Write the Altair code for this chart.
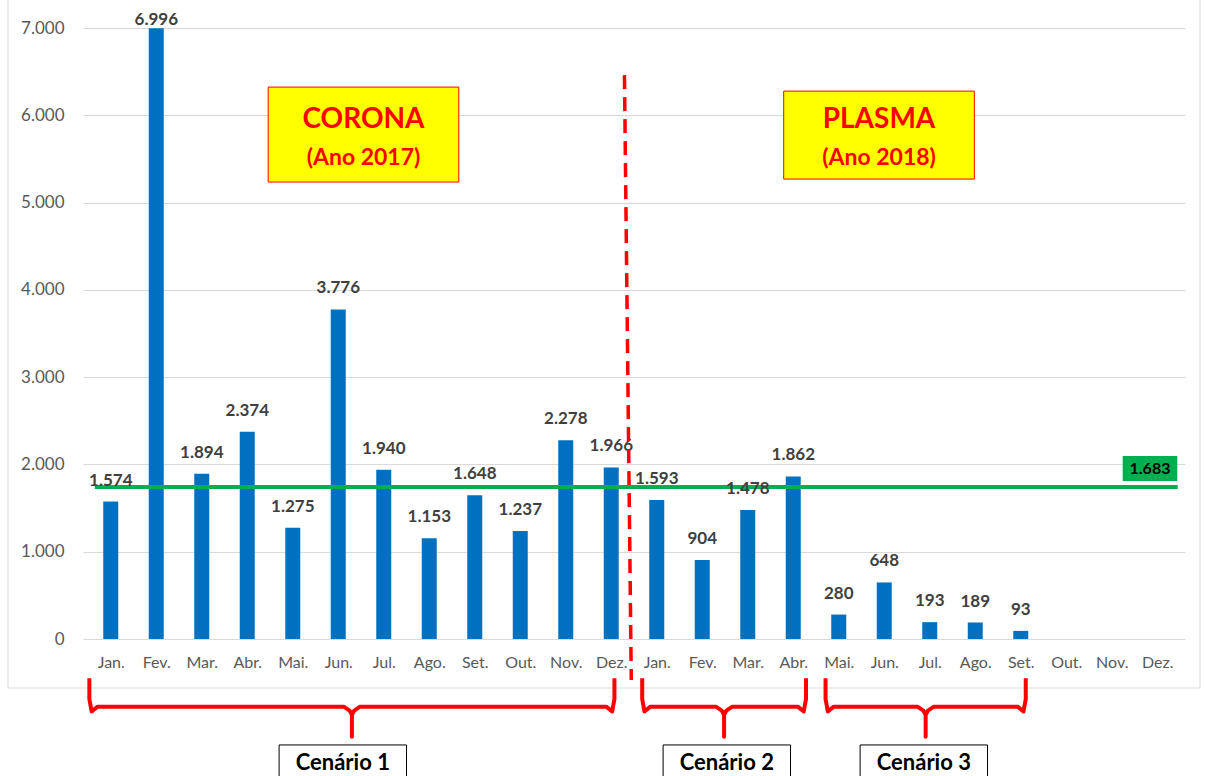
import altair as alt
import pandas as pd

# ---------------- data ----------------
months = ["Jan.", "Fev.", "Mar.", "Abr.", "Mai.", "Jun.", "Jul.", "Ago.", "Set.", "Out.", "Nov.", "Dez."]
values_2017 = [1574, 6996, 1894, 2374, 1275, 3776, 1940, 1153, 1648, 1237, 2278, 1966]
values_2018 = [1593, 904, 1478, 1862, 280, 648, 193, 189, 93, None, None, None]
y_ticks = [0, 1000, 2000, 3000, 4000, 5000, 6000, 7000]
avg_level = 1740
avg_label = "1.683"
box_titles = [("CORONA", "(Ano 2017)"), ("PLASMA", "(Ano 2018)")]
scenarios = ["Cenário 1", "Cenário 2", "Cenário 3"]
scenario_extents = [(-0.47, 11.07), (11.68, 15.28), (15.71, 20.11)]  # in month-index units
scenario_box_centers = [5.10, 13.54, 17.87]

# ---------------- tables ----------------
labels24 = months + months
vals = values_2017 + values_2018
rows = []
for i, (m, v) in enumerate(zip(labels24, vals)):
    if v is None:
        continue
    rows.append({"x": i, "v": v, "lab": f"{v:,}".replace(",", ".")})
df = pd.DataFrame(rows)

xs = alt.Scale(domain=[-0.5, 23.5], nice=False, zero=False)
ys = alt.Scale(domain=[0, 7000], nice=False, zero=False)
FONT = "Lato"

label_expr = "[" + ",".join(f"'{m}'" for m in labels24) + "][datum.value]"

base = alt.Chart(df)
bars = base.mark_bar(size=15, color="#0070c0").encode(
    x=alt.X("x:Q", scale=xs, title=None,
            axis=alt.Axis(values=list(range(24)), labelExpr=label_expr, grid=False,
                          ticks=False, domain=False, labelPadding=15, labelFontSize=16,
                          labelColor="#595959", labelFont=FONT)),
    y=alt.Y("v:Q", scale=ys, title=None,
            axis=alt.Axis(values=y_ticks,
                          labelExpr="replace(format(datum.value, ','), ',', '.')",
                          grid=True, gridColor="#d9d9d9", ticks=False, domain=False,
                          labelPadding=19, labelFontSize=17, labelColor="#595959",
                          labelFont=FONT)),
)


def txt(filt, dy, dx=0):
    return base.transform_filter(filt).mark_text(
        font=FONT, fontSize=17, fontWeight="bold", color="#404040", dy=dy, dx=dx,
        baseline="middle").encode(
        x=alt.X("x:Q", scale=xs, title=None),
        y=alt.Y("v:Q", scale=ys, title=None),
        text="lab:N")


labels = alt.layer(
    txt("datum.x != 1", -21),
    txt("datum.x == 1", -8),
)

# frame around chart
frame = alt.Chart(pd.DataFrame({"a": [0]})).mark_rect(
    fill=None, stroke="#d9d9d9", strokeWidth=1).encode(
    x=alt.value(-75), x2=alt.value(1117), y=alt.value(-40), y2=alt.value(660))

# average line
avg_df = pd.DataFrame({"x": [-0.35], "x2": [23.45], "y": [avg_level]})
avg_line = alt.Chart(avg_df).mark_rule(color="#00b050", strokeWidth=4).encode(
    x=alt.X("x:Q", scale=xs, title=None), x2="x2", y=alt.Y("y:Q", scale=ys, title=None))
avg_box_df = pd.DataFrame({"x": [22.24], "x2": [23.44], "y": [1810], "y2": [2096],
                           "cx": [22.84], "cy": [1953], "t": [avg_label]})
avg_box = alt.Chart(avg_box_df).mark_rect(color="#00b050").encode(
    x=alt.X("x:Q", scale=xs, title=None), x2="x2",
    y=alt.Y("y:Q", scale=ys, title=None), y2="y2")
avg_text = alt.Chart(avg_box_df).mark_text(
    font=FONT, fontSize=16, fontWeight="bold", color="#000000").encode(
    x=alt.X("cx:Q", scale=xs, title=None), y=alt.Y("cy:Q", scale=ys, title=None), text="t:N")

# divider
div_df = pd.DataFrame({"x": [11.29], "x2": [11.44], "y": [6460], "y2": [-470]})
divider = alt.Chart(div_df).mark_rule(color="#ff0000", strokeWidth=3.5,
                                      strokeDash=[14, 8]).encode(
    x=alt.X("x:Q", scale=xs, title=None), x2="x2",
    y=alt.Y("y:Q", scale=ys, title=None), y2="y2")

# title boxes
tb_df = pd.DataFrame({
    "x": [3.46, 14.79], "x2": [7.65, 18.98], "y": [5235, 5269], "y2": [6323, 6277],
    "cx": [5.555, 16.885], "t1": [b[0] for b in box_titles], "t2": [b[1] for b in box_titles],
    "y1": [5945, 5945], "yb": [5510, 5510]})
tb_rect = alt.Chart(tb_df).mark_rect(fill="#ffff00", stroke="#ff0000", strokeWidth=1).encode(
    x=alt.X("x:Q", scale=xs, title=None), x2="x2",
    y=alt.Y("y:Q", scale=ys, title=None), y2="y2")
tb_t1 = alt.Chart(tb_df).mark_text(font=FONT, fontSize=28, fontWeight="bold",
                                   color="#ff0000").encode(
    x=alt.X("cx:Q", scale=xs, title=None), y=alt.Y("y1:Q", scale=ys, title=None), text="t1:N")
tb_t2 = alt.Chart(tb_df).mark_text(font=FONT, fontSize=23, fontWeight="bold",
                                   color="#ff0000").encode(
    x=alt.X("cx:Q", scale=xs, title=None), y=alt.Y("yb:Q", scale=ys, title=None), text="t2:N")

# braces
TOP, SH, BAR, NECK, TIP = -450, -690, -775, -870, -1120
brace_rows = []
box_rows = []
for name, (L, R), bc in zip(scenarios, scenario_extents, scenario_box_centers):
    C = (L + R) / 2
    pts = [(L, TOP), (L, SH), (L + 0.05, BAR - 55), (L + 0.18, BAR), (C - 0.18, BAR),
           (C - 0.05, BAR - 45), (C, NECK), (C, TIP), (C, NECK), (C + 0.05, BAR - 45),
           (C + 0.18, BAR), (R - 0.18, BAR), (R - 0.05, BAR - 55), (R, SH), (R, TOP)]
    # note: BAR - 55 etc. only round the corners
    pts = [(px, pv) for px, pv in pts]
    for k, (px, pv) in enumerate(pts):
        brace_rows.append({"s": name, "o": k, "x": px, "y": pv})
    box_rows.append({"s": name, "x": bc - 1.4, "x2": bc + 1.4, "cx": bc,
                     "y": -1214, "y2": -1800, "ty": -1420})
brace_df = pd.DataFrame(brace_rows)
box_df = pd.DataFrame(box_rows)
braces = alt.Chart(brace_df).mark_line(color="#ff0000", strokeWidth=4,
                                       strokeJoin="round", interpolate="linear").encode(
    x=alt.X("x:Q", scale=xs, title=None), y=alt.Y("y:Q", scale=ys, title=None),
    detail="s:N", order="o:Q")
sc_rect = alt.Chart(box_df).mark_rect(fill="#ffffff", stroke="#000000", strokeWidth=1).encode(
    x=alt.X("x:Q", scale=xs, title=None), x2="x2",
    y=alt.Y("y:Q", scale=ys, title=None), y2="y2")
sc_text = alt.Chart(box_df).mark_text(font=FONT, fontSize=22, fontWeight="bold",
                                      color="#000000").encode(
    x=alt.X("cx:Q", scale=xs, title=None), y=alt.Y("ty:Q", scale=ys, title=None), text="s:N")

chart = alt.layer(
    bars, frame, avg_line, labels, avg_box, avg_text, divider,
    tb_rect, tb_t1, tb_t2, braces, sc_rect, sc_text
).properties(
    width=1102, height=611,
    autosize=alt.AutoSizeParams(type="none"),
    padding={"left": 83, "top": 28, "right": 21, "bottom": 137},
    background="#ffffff",
).configure_view(stroke=None)

chart.save("out.html", embed_options={"renderer": "svg", "actions": False})
